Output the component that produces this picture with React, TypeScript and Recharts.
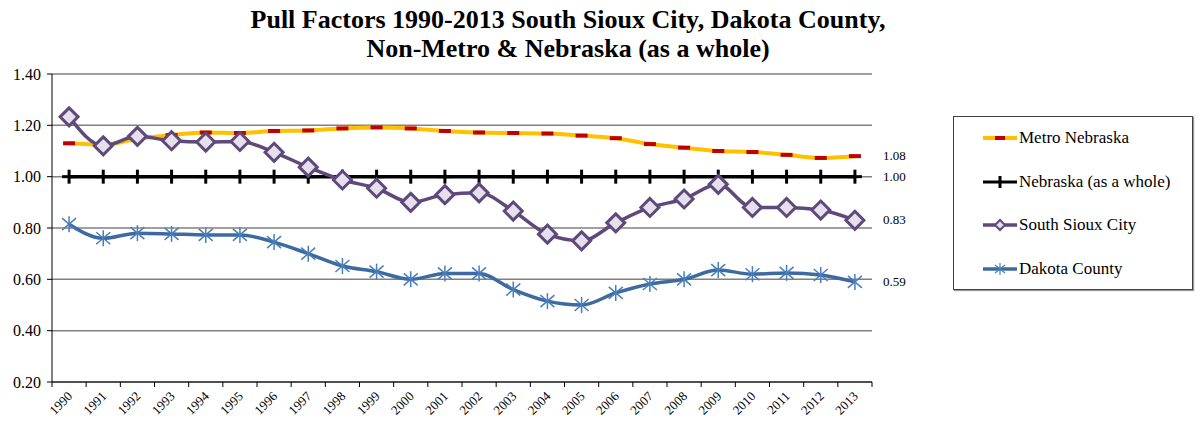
import React from "react"
import {
  LineChart,
  Line,
  XAxis,
  YAxis,
  CartesianGrid,
  LabelList,
} from "recharts"

const YEARS = [
  "1990", "1991", "1992", "1993", "1994", "1995", "1996", "1997", "1998", "1999", "2000", "2001",
  "2002", "2003", "2004", "2005", "2006", "2007", "2008", "2009", "2010", "2011", "2012", "2013",
]

const METRO = [
  1.13, 1.125, 1.147, 1.162, 1.172, 1.17, 1.178, 1.18, 1.188, 1.192, 1.188, 1.178,
  1.172, 1.17, 1.168, 1.16, 1.15, 1.127, 1.113, 1.1, 1.096, 1.085, 1.073, 1.08,
]
const NEBRASKA = [
  1.0, 1.0, 1.0, 1.0, 1.0, 1.0, 1.0, 1.0, 1.0, 1.0, 1.0, 1.0,
  1.0, 1.0, 1.0, 1.0, 1.0, 1.0, 1.0, 1.0, 1.0, 1.0, 1.0, 1.0,
]
const SOUTH_SIOUX = [
  1.233, 1.12, 1.157, 1.14, 1.135, 1.137, 1.095, 1.037, 0.987, 0.955, 0.9, 0.93,
  0.937, 0.866, 0.776, 0.75, 0.82, 0.88, 0.913, 0.97, 0.88, 0.88, 0.87, 0.83,
]
const DAKOTA = [
  0.815, 0.76, 0.78, 0.777, 0.773, 0.773, 0.745, 0.7, 0.652, 0.63, 0.6, 0.623,
  0.623, 0.56, 0.515, 0.5, 0.547, 0.582, 0.6, 0.636, 0.62, 0.625, 0.617, 0.59,
]
const Y_TICKS = [0.2, 0.4, 0.6, 0.8, 1.0, 1.2, 1.4]

const data = YEARS.map((year, i) => ({
  year,
  metro: METRO[i],
  nebraska: NEBRASKA[i],
  ssc: SOUTH_SIOUX[i],
  dakota: DAKOTA[i],
}))

const FONT = '"Liberation Serif", "Times New Roman", serif'
const C_METRO = "#ffc000"
const C_RED = "#c00000"
const C_PURPLE = "#5f497a"
const C_LAV = "#e5e0ec"
const C_BLUE = "#3d6aa0"

// markers
const DashDot = (p: any) => (
  <rect x={p.cx - 6} y={p.cy - 2} width={12} height={4} fill={C_RED} />
)
const PlusDot = (p: any) => (
  <g stroke="#000" strokeWidth={3}>
    <line x1={p.cx} y1={p.cy - 7} x2={p.cx} y2={p.cy + 7} />
    <line x1={p.cx - 7} y1={p.cy} x2={p.cx + 7} y2={p.cy} />
  </g>
)
const DiamondDot = (p: any) => (
  <polygon
    points={`${p.cx},${p.cy - 9} ${p.cx + 9},${p.cy} ${p.cx},${p.cy + 9} ${p.cx - 9},${p.cy}`}
    fill={C_LAV}
    stroke={C_PURPLE}
    strokeWidth={3}
  />
)
const StarDot = (p: any) => (
  <g stroke="#4a7ebb" strokeWidth={1.5}>
    <line x1={p.cx} y1={p.cy - 8} x2={p.cx} y2={p.cy + 8} />
    <line x1={p.cx - 7} y1={p.cy - 6} x2={p.cx + 7} y2={p.cy + 6} />
    <line x1={p.cx - 7} y1={p.cy + 6} x2={p.cx + 7} y2={p.cy - 6} />
  </g>
)

const endLabel = (p: any) => {
  if (p.index !== YEARS.length - 1) return null
  return (
    <text x={p.x + 28} y={p.y + 4} fontSize={13} fontFamily={FONT} fill="#000">
      {Number(p.value).toFixed(2)}
    </text>
  )
}

const XTick = (p: any) => {
  const band = p.width / p.visibleTicksCount
  const last = p.index === p.visibleTicksCount - 1
  return (
    <g>
      <line x1={p.x - band / 2} y1={p.y - 8} x2={p.x - band / 2} y2={p.y - 3} stroke="#000" />
      {last && (
        <line x1={p.x + band / 2} y1={p.y - 8} x2={p.x + band / 2} y2={p.y - 3} stroke="#000" />
      )}
      <text
        x={p.x + 4}
        y={p.y + 7}
        textAnchor="end"
        fontSize={13}
        fontFamily={FONT}
        transform={`rotate(-45 ${p.x + 4} ${p.y + 7})`}
      >
        {p.payload.value}
      </text>
    </g>
  )
}

const legendItems = [
  { name: "Metro Nebraska", kind: "metro" },
  { name: "Nebraska (as a whole)", kind: "ne" },
  { name: "South Sioux City", kind: "ssc" },
  { name: "Dakota County", kind: "dak" },
]

function LegendIcon({ kind }: { kind: string }) {
  return (
    <svg width={34} height={16} style={{ display: "block" }}>
      {kind === "metro" && (
        <g>
          <line x1={0} y1={8} x2={34} y2={8} stroke={C_METRO} strokeWidth={4} />
          <rect x={12} y={6} width={10} height={4} fill={C_RED} />
        </g>
      )}
      {kind === "ne" && (
        <g stroke="#000" strokeWidth={3}>
          <line x1={0} y1={8} x2={34} y2={8} />
          <line x1={17} y1={2} x2={17} y2={14} />
        </g>
      )}
      {kind === "ssc" && (
        <g>
          <line x1={0} y1={8} x2={34} y2={8} stroke={C_PURPLE} strokeWidth={3.5} />
          <polygon points="17,3 22,8 17,13 12,8" fill={C_LAV} stroke={C_PURPLE} strokeWidth={2} />
        </g>
      )}
      {kind === "dak" && (
        <g>
          <line x1={0} y1={8} x2={34} y2={8} stroke={C_BLUE} strokeWidth={3.5} />
          <g stroke="#4a7ebb" strokeWidth={1.2}>
            <line x1={17} y1={2} x2={17} y2={14} />
            <line x1={12} y1={4} x2={22} y2={12} />
            <line x1={12} y1={12} x2={22} y2={4} />
          </g>
        </g>
      )}
    </svg>
  )
}

export default function App() {
  return (
    <div style={{ position: "absolute", left: 0, top: 0, width: 1203, height: 424, background: "#fff", fontFamily: FONT }}>
      <div
        style={{
          position: "absolute",
          left: 0,
          top: 5,
          width: 1136,
          textAlign: "center",
          fontWeight: "bold",
          fontSize: 26,
          lineHeight: "29px",
          color: "#000",
        }}
      >
        Pull Factors 1990-2013 South Sioux City, Dakota County,
        <br />
        Non-Metro &amp; Nebraska (as a whole)
      </div>
      <LineChart
        width={1203}
        height={424}
        data={data}
        margin={{ top: 74, right: 331, bottom: 0, left: 7 }}
      >
        <CartesianGrid vertical={false} stroke="#808080" strokeWidth={1.5} />
        <XAxis
          dataKey="year"
          scale="band"
          height={42}
          interval={0}
          tickLine={false}
          axisLine={{ stroke: "#000" }}
          tick={<XTick />}
        />
        <YAxis
          width={45}
          domain={[0.2, 1.4]}
          ticks={Y_TICKS}
          interval={0}
          tickFormatter={(v: number) => v.toFixed(2)}
          axisLine={{ stroke: "#000" }}
          tickLine={{ stroke: "#000" }}
          tickSize={5}
          tickMargin={6}
          tick={{ fontSize: 16, fontFamily: FONT, fill: "#000" }}
        />
        <YAxis
          yAxisId="r"
          orientation="right"
          width={0}
          domain={[0.2, 1.4]}
          tick={false}
          tickLine={false}
          axisLine={{ stroke: "#808080", strokeWidth: 1.5 }}
        />
        <Line
          type="monotone"
          dataKey="metro"
          stroke={C_METRO}
          strokeWidth={4}
          dot={<DashDot />}
          activeDot={false}
          isAnimationActive={false}
        >
          <LabelList dataKey="metro" content={endLabel} />
        </Line>
        <Line
          type="monotone"
          dataKey="nebraska"
          stroke="#000"
          strokeWidth={3.5}
          dot={<PlusDot />}
          activeDot={false}
          isAnimationActive={false}
        >
          <LabelList dataKey="nebraska" content={endLabel} />
        </Line>
        <Line
          type="monotone"
          dataKey="ssc"
          stroke={C_PURPLE}
          strokeWidth={3.5}
          dot={<DiamondDot />}
          activeDot={false}
          isAnimationActive={false}
        >
          <LabelList dataKey="ssc" content={endLabel} />
        </Line>
        <Line
          type="monotone"
          dataKey="dakota"
          stroke={C_BLUE}
          strokeWidth={3.5}
          dot={<StarDot />}
          activeDot={false}
          isAnimationActive={false}
        >
          <LabelList dataKey="dakota" content={endLabel} />
        </Line>
      </LineChart>
      <div
        style={{
          position: "absolute",
          left: 953,
          top: 116,
          width: 238,
          height: 172,
          border: "1px solid #404040",
          boxShadow: "1px 1px 1px #999",
        }}
      >
        {legendItems.map((it, i) => (
          <div
            key={it.name}
            style={{
              position: "absolute",
              left: 29,
              top: 11 + i * 43.5,
              display: "flex",
              alignItems: "center",
              fontSize: 17,
              whiteSpace: "nowrap",
            }}
          >
            <LegendIcon kind={it.kind} />
            <span style={{ marginLeft: 2 }}>{it.name}</span>
          </div>
        ))}
      </div>
    </div>
  )
}
